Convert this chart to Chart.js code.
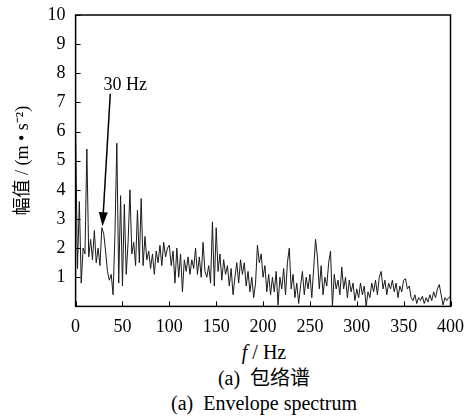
<!DOCTYPE html>
<html>
<head>
<meta charset="utf-8">
<script src="https://cdn.jsdelivr.net/npm/chart.js@4"></script>
<style>
  body { margin: 0; background: #fff; }
  #wrap { position: relative; width: 466px; height: 418px; }
  #chart { position: absolute; left: 0; top: 0; }
  .cap { position: absolute; left: 31px; width: 466px; text-align: center; line-height: 24px; white-space: pre;
         font-family: "Liberation Serif", "Times New Roman", "Noto Sans CJK SC", serif; font-size: 20px; color: #000; }
</style>
</head>
<body>
<div id="wrap">
  <canvas id="chart" width="466" height="340"></canvas>
  <div class="cap" style="top:340px"><i>f</i> / Hz</div>
  <div class="cap" style="top:366px">(a)  包络谱</div>
  <div class="cap" style="top:391px">(a)  Envelope spectrum</div>
</div>
<script>
// frequency axis, 2 Hz resolution
const freqStep = 2
const amplitude = [
  5.9, 1.3, 3.6, 0.8, 2.0, 1.8, 5.4, 1.7, 2.3, 1.6,
  2.6, 1.5, 2.0, 1.4, 2.7, 2.5, 1.9, 1.2, 0.9, 1.1,
  0.4, 2.5, 5.6, 0.8, 3.8, 0.7, 3.5, 1.1, 2.2, 4.0,
  1.8, 2.2, 1.4, 3.3, 1.5, 3.7, 1.4, 2.4, 1.6, 1.9,
  1.3, 1.8, 1.1, 1.9, 1.5, 2.1, 1.4, 2.2, 1.7, 2.0,
  2.1, 1.4, 1.9, 0.8, 2.0, 1.0, 1.8, 0.5, 1.6, 1.2,
  1.7, 1.1, 1.6, 1.3, 2.0, 1.1, 1.7, 1.0, 2.2, 1.2,
  1.0, 1.4, 0.8, 2.9, 0.7, 2.7, 1.2, 1.8, 0.9, 1.6,
  1.1, 1.4, 0.7, 1.3, 0.4, 1.0, 1.5, 0.8, 1.6, 1.1,
  1.5, 0.7, 1.2, 0.5, 1.0, 0.3, 0.8, 2.1, 1.5, 1.8,
  1.0, 1.4, 0.5, 1.1, 0.4, 1.0, 0.5, 1.2, 0.05, 1.0,
  0.6, 1.3, 0.4, 1.5, 2.0, 0.6, 1.1, 0.3, 0.8, 0.1,
  0.7, 1.2, 0.4, 1.0, 0.6, 1.1, 0.3, 1.3, 2.3, 1.7,
  0.6, 1.4, 0.4, 1.0, 0.7, 1.5, 1.9, 0.0, 1.1, 0.6,
  0.9, 0.4, 1.35, 0.6, 1.0, 0.3, 0.9, 0.5, 0.8, 0.2,
  0.6, 0.3, 0.8, 0.4, 0.7, 0.0, 0.5, 0.3, 0.8, 0.5,
  0.9, 0.4, 1.0, 1.2, 0.6, 0.9, 0.4, 0.8, 0.6, 0.9,
  0.5, 0.8, 0.3, 0.7, 0.5, 0.9, 0.95, 0.6, 0.7, 0.3,
  0.2, 0.4, 0.1, 0.3, 0.2, 0.35, 0.1, 0.3, 0.15, 0.4,
  0.2, 0.5, 0.3, 0.6, 0.75, 0.4, 0.05, 0.3, 0.2, 0.3,
  0.35
]
const points = amplitude.map((v, i) => ({ x: i * freqStep, y: v }))

// annotation: label and arrow (in data units)
const noteText = '30 Hz'
const noteLabel = { x: 53, y: 7.6 }
const arrowFrom = { x: 37, y: 7.3 }
const arrowTo = { x: 28.7, y: 2.75 }

const serif = '"Liberation Serif", "Times New Roman", "Noto Sans CJK SC", serif'

const frame = {
  id: 'frame',
  afterDraw(chart) {
    const { ctx, chartArea: a, scales } = chart
    ctx.save()
    ctx.strokeStyle = '#000'
    ctx.lineWidth = 1.5
    ctx.strokeRect(a.left, a.top, a.right - a.left, a.bottom - a.top)
    ctx.lineWidth = 1
    ctx.beginPath()
    scales.x.ticks.forEach(t => {
      const px = Math.round(scales.x.getPixelForValue(t.value)) + 0.5
      ctx.moveTo(px, a.bottom); ctx.lineTo(px, a.bottom - 5)
    })
    scales.y.ticks.forEach(t => {
      const py = Math.round(scales.y.getPixelForValue(t.value)) + 0.5
      ctx.moveTo(a.left, py); ctx.lineTo(a.left + 5, py)
    })
    ctx.stroke()

    // arrow
    const x0 = scales.x.getPixelForValue(arrowFrom.x), y0 = scales.y.getPixelForValue(arrowFrom.y)
    const x1 = scales.x.getPixelForValue(arrowTo.x), y1 = scales.y.getPixelForValue(arrowTo.y)
    const ang = Math.atan2(y1 - y0, x1 - x0)
    ctx.lineWidth = 1.5
    ctx.beginPath()
    ctx.moveTo(x0, y0); ctx.lineTo(x1 - 12 * Math.cos(ang), y1 - 12 * Math.sin(ang))
    ctx.stroke()
    ctx.fillStyle = '#000'
    ctx.beginPath()
    ctx.moveTo(x1, y1)
    ctx.lineTo(x1 - 14 * Math.cos(ang) + 4.5 * Math.sin(ang), y1 - 14 * Math.sin(ang) - 4.5 * Math.cos(ang))
    ctx.lineTo(x1 - 14 * Math.cos(ang) - 4.5 * Math.sin(ang), y1 - 14 * Math.sin(ang) + 4.5 * Math.cos(ang))
    ctx.closePath()
    ctx.fill()

    ctx.font = '18px ' + serif
    ctx.textAlign = 'center'
    ctx.textBaseline = 'middle'
    ctx.fillText(noteText, scales.x.getPixelForValue(noteLabel.x), scales.y.getPixelForValue(noteLabel.y))
    ctx.restore()
  }
}

new Chart(document.getElementById('chart'), {
  type: 'line',
  data: {
    datasets: [{
      data: points,
      borderColor: '#1a1a1a',
      borderWidth: 1,
      pointRadius: 0,
      tension: 0,
      fill: false,
    }]
  },
  options: {
    responsive: false,
    animation: false,
    layout: { padding: { left: 12, right: 14, top: 15, bottom: 0 } },
    scales: {
      x: {
        type: 'linear',
        min: 0,
        max: 400,
        grid: { display: false },
        border: { display: false },
        ticks: { stepSize: 50, maxRotation: 0, color: '#000', padding: 2, font: { family: serif, size: 18 } },
      },
      y: {
        min: 0,
        max: 10,
        grid: { display: false },
        border: { display: false },
        ticks: {
          stepSize: 1,
          color: '#000',
          padding: 2,
          font: { family: serif, size: 18 },
          callback: v => v === 0 ? '' : v,
        },
        title: {
          display: true,
          text: '幅值 / (m • s⁻²)',
          color: '#000',
          padding: { top: 0, bottom: 12 },
          font: { family: serif, size: 18 },
        },
      },
    },
    plugins: {
      legend: { display: false },
      tooltip: { enabled: false },
    },
  },
  plugins: [frame],
})
</script>
</body>
</html>
